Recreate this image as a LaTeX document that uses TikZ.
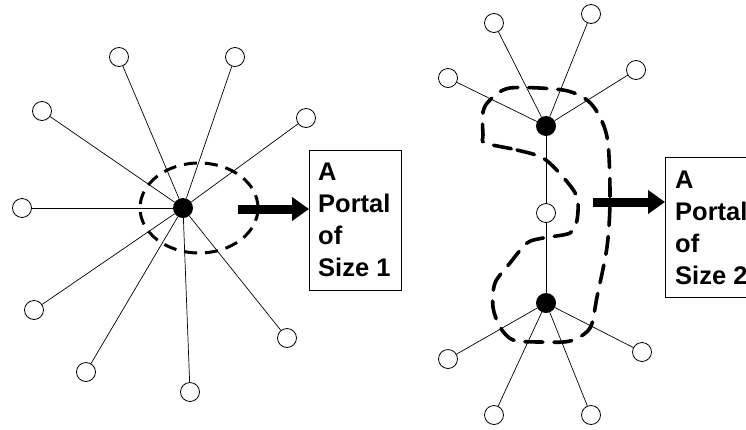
\documentclass[tikz,border=0pt]{standalone}
\usepackage{fontspec}
\setmainfont{Liberation Sans}
\usetikzlibrary{arrows.meta}
\begin{document}
\begin{tikzpicture}[x=1pt,y=-1pt,
  leaf/.style={circle,draw,line width=0.8pt,minimum size=19pt,inner sep=0pt,fill=white},
  hub/.style={circle,fill=black,minimum size=20pt,inner sep=0pt},
  edge/.style={line width=0.7pt},
  portal/.style={line width=3pt,dash pattern=on 13pt off 8pt},
  portalb/.style={line width=3.6pt,dash pattern=on 18pt off 11pt,line cap=round},
  bigarrow/.style={line width=9pt,-{Triangle[length=17pt,width=23pt]}},
  box/.style={draw,line width=0.8pt,inner sep=0pt,anchor=north west},
  boxtext/.style={anchor=north west,align=left,inner sep=0pt,font=\bfseries\fontsize{25.5}{32}\selectfont}]
\useasboundingbox (0,0) rectangle (746,429);
\clip (0,0) rectangle (746,429);
% ---------- left star ----------
\node[hub] (c) at (183,208) {};
\node[leaf] (l1) at (119,57) {};
\node[leaf] (l2) at (235,57) {};
\node[leaf] (l3) at (42,111) {};
\node[leaf] (l4) at (306,118) {};
\node[leaf] (l5) at (22,208) {};
\node[leaf] (l6) at (34,310) {};
\node[leaf] (l7) at (287,338) {};
\node[leaf] (l8) at (86,372) {};
\node[leaf] (l9) at (190,392) {};
\foreach \i in {1,...,9} \draw[edge] (c) -- (l\i);
\draw[portal] (199,208) ellipse [x radius=59, y radius=45];
% ---------- left box ----------
\node[box,minimum width=92pt,minimum height=140pt] (b1) at (309,150) {};
\node[boxtext] (t1) at (318,163) {A\\Portal\\of\\Size 1};
\coordinate (a1) at (238,209);
\draw[bigarrow] (a1) -- (b1.west |- a1);
% ---------- right figure ----------
\node[hub] (h1) at (546,126) {};
\node[leaf] (m) at (546,213) {};
\node[hub] (h2) at (546,303) {};
\node[leaf] (u1) at (494,23) {};
\node[leaf] (u2) at (591,14) {};
\node[leaf] (u3) at (448,78) {};
\node[leaf] (u4) at (636,70) {};
\node[leaf] (d1) at (448,359) {};
\node[leaf] (d2) at (642,352) {};
\node[leaf] (d3) at (494,415) {};
\node[leaf] (d4) at (591,415) {};
\foreach \i in {1,...,4} \draw[edge] (h1) -- (u\i);
\foreach \i in {1,...,4} \draw[edge] (h2) -- (d\i);
\draw[edge] (h1) -- (m);
\draw[edge] (m) -- (h2);
\draw[portalb] plot[smooth cycle,tension=0.5] coordinates {
  (485,143) (517,150) (543,158) (563,177) (577,197) (577,220) (570,233)
  (543,238) (527,243) (510,263) (495,283) (493,307) (500,327) (513,340)
  (540,342) (570,341) (590,328) (597,297) (607,247) (610,200) (608,143)
  (600,117) (587,100) (563,90) (510,88) (490,100) (483,112) (483,135)};
% ---------- right box ----------
\node[box,minimum width=110pt,minimum height=140pt] (b2) at (665,157) {};
\node[boxtext] (t2) at (675,171) {A\\Portal\\of\\Size 2};
\coordinate (a2) at (593,202);
\draw[bigarrow] (a2) -- (b2.west |- a2);
\end{tikzpicture}
\end{document}
